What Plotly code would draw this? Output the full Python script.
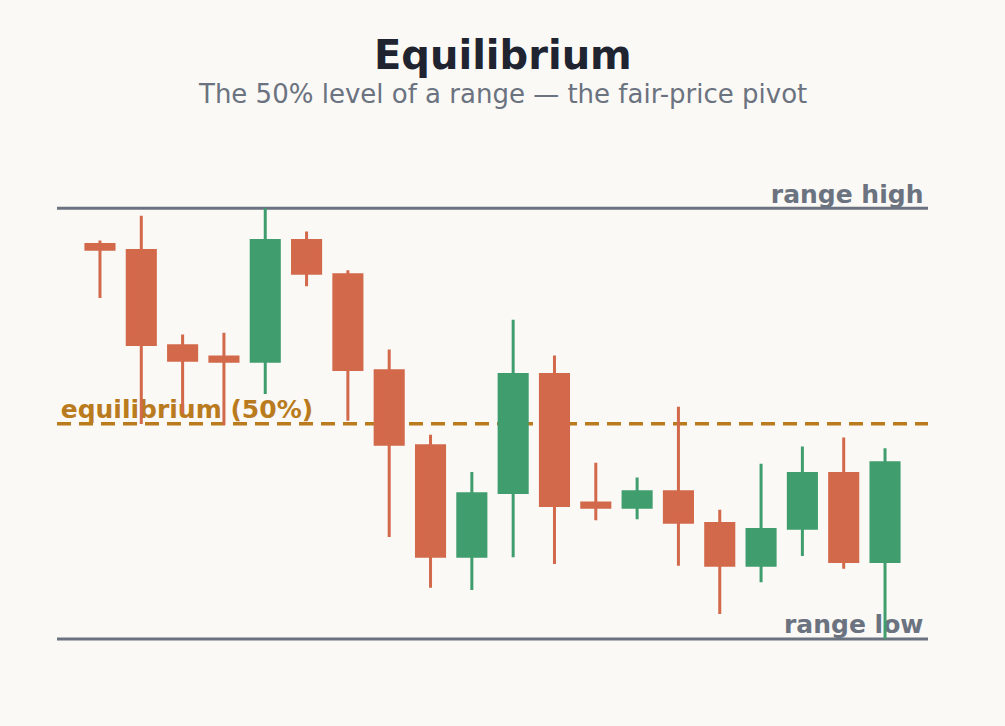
import plotly.graph_objects as go

# candle data (price units, range low = 100, range high = 200)
opens = [191.6, 190.2, 168.1, 165.5, 164.5, 192.5, 184.6, 162.3, 144.9, 119.2,
         134.0, 161.4, 131.6, 130.6, 134.2, 126.8, 117.1, 125.7, 138.4, 118.0]
highs = [192.5, 198.3, 170.7, 171.1, 200.0, 194.6, 185.6, 167.2, 147.4, 138.8,
         174.1, 165.8, 140.9, 137.5, 153.9, 130.0, 140.7, 144.7, 146.8, 144.3]
lows = [179.2, 149.9, 152.4, 149.7, 156.9, 181.9, 150.7, 123.7, 111.9, 111.4,
        119.0, 117.4, 127.6, 127.8, 117.0, 105.8, 113.2, 119.3, 116.3, 100.0]
closes = [190.5, 168.4, 164.7, 164.5, 192.5, 184.9, 162.6, 145.2, 119.2, 133.7,
          161.4, 131.0, 130.6, 134.2, 127.1, 117.1, 125.4, 138.4, 118.0, 140.9]
bars = list(range(len(opens)))

range_high = 200
range_low = 100
equilibrium = (range_high + range_low) / 2

RED = "#D3694B"
GREEN = "#409E6E"
GOLD = "#BA7B1F"
GRAY = "#6B7280"
BG = "#FAF9F5"
FONT = "DejaVu Sans"

fig = go.Figure()

# labels sit on the base axis so the candles (overlay axis) draw over them
fig.add_trace(go.Scatter(
    x=[19.93, 19.93, -0.95],
    y=[range_high + 2.6, range_low + 2.8, equilibrium + 2.8],
    mode="text",
    text=["<b>range high</b>", "<b>range low</b>", "<b>equilibrium (50%)</b>"],
    textposition=["middle left", "middle left", "middle right"],
    textfont=dict(family=FONT, size=25, color=[GRAY, GRAY, GOLD]),
    hoverinfo="skip", showlegend=False,
))

fig.add_trace(go.Candlestick(
    x=bars, open=opens, high=highs, low=lows, close=closes,
    increasing=dict(line=dict(color=GREEN, width=3), fillcolor=GREEN),
    decreasing=dict(line=dict(color=RED, width=3), fillcolor=RED),
    yaxis="y2", showlegend=False,
))

for level, color, dash in [(range_high, GRAY, "solid"), (range_low, GRAY, "solid"),
                           (equilibrium, GOLD, "14px,8px")]:
    fig.add_shape(type="line", xref="paper", yref="y", x0=0, x1=1, y0=level, y1=level,
                  line=dict(color=color, width=3 if dash == "solid" else 3.5, dash=dash),
                  layer="below")

yr = [88.16, 213.54]
fig.update_layout(
    width=1005, height=726,
    margin=dict(l=57, r=77, t=150, b=36),
    paper_bgcolor=BG, plot_bgcolor=BG,
    font=dict(family=FONT),
    boxgap=0.32, boxgroupgap=0,
    showlegend=False,
    xaxis=dict(range=[-1.04, 20.04], visible=False, rangeslider=dict(visible=False),
               fixedrange=True),
    yaxis=dict(range=yr, visible=False, fixedrange=True),
    yaxis2=dict(range=yr, visible=False, overlaying="y", fixedrange=True),
    annotations=[
        dict(text="<b>Equilibrium</b>", x=0.5115, y=1.176, xref="paper", yref="paper",
             showarrow=False, yanchor="middle",
             font=dict(family=FONT, size=40, color="#1F2430")),
        dict(text="The 50% level of a range — the fair-price pivot", x=0.5115, y=1.1037,
             xref="paper", yref="paper", showarrow=False, yanchor="middle",
             font=dict(family=FONT, size=26, color=GRAY)),
    ],
)

fig.write_html("out.html", config={"displayModeBar": False},
               post_script="document.body.style.margin = '0';")
